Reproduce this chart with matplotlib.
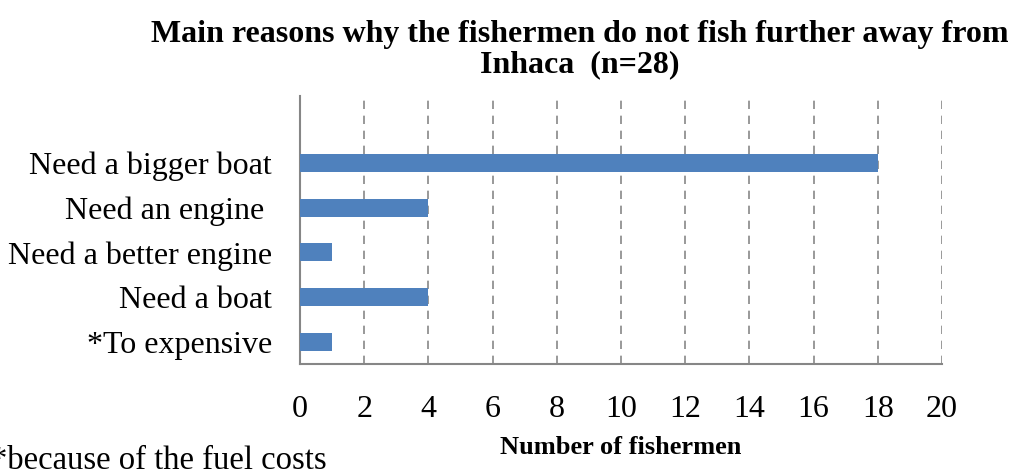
import matplotlib.pyplot as plt

reasons = ['Need a bigger boat', 'Need an engine ', 'Need a better engine',
           'Need a boat', '*To expensive']
fishermen = [18, 4, 1, 4, 1]
xticks = list(range(0, 21, 2))

plt.rcParams['font.family'] = ['Liberation Serif', 'DejaVu Serif']

fig = plt.figure(figsize=(10.12, 4.73), dpi=100)
ax = fig.add_axes([300 / 1012, 1 - 364 / 473, 642 / 1012, 268 / 473])

# one empty slot above the first reason
ypos = list(range(len(reasons)))[::-1]
ax.barh(ypos, fishermen, height=0.4, color='#4f81bd', zorder=3)

ax.set_xlim(0, 20)
ax.set_ylim(-0.5, len(reasons) + 0.5)
ax.set_xticks(xticks)
ax.set_yticks(ypos)
ax.set_yticklabels(reasons, fontsize=23)
ax.tick_params(axis='x', labelsize=23, length=0, pad=22)
ax.tick_params(axis='y', length=0, pad=20)

ax.grid(axis='x', linestyle=(0, (5, 4)), color='#878787', linewidth=1.2, zorder=0)
for side in ['top', 'right']:
    ax.spines[side].set_visible(False)
for side in ['left', 'bottom']:
    ax.spines[side].set_color('#868686')
    ax.spines[side].set_linewidth(1.5)

fig.text(580 / 1012, 1 - 20 / 473,
         'Main reasons why the fishermen do not fish further away from\nInhaca  (n=28)',
         ha='center', va='top', fontsize=23, fontweight='bold', linespacing=1.05)
fig.text(621 / 1012, 1 - 447 / 473, 'Number of fishermen', ha='center', va='center',
         fontsize=19, fontweight='bold')
fig.text(-9 / 1012, 1 - 461 / 473, '*because of the fuel costs', ha='left', va='center',
         fontsize=23.5)

fig.savefig('out.png', dpi=100)
